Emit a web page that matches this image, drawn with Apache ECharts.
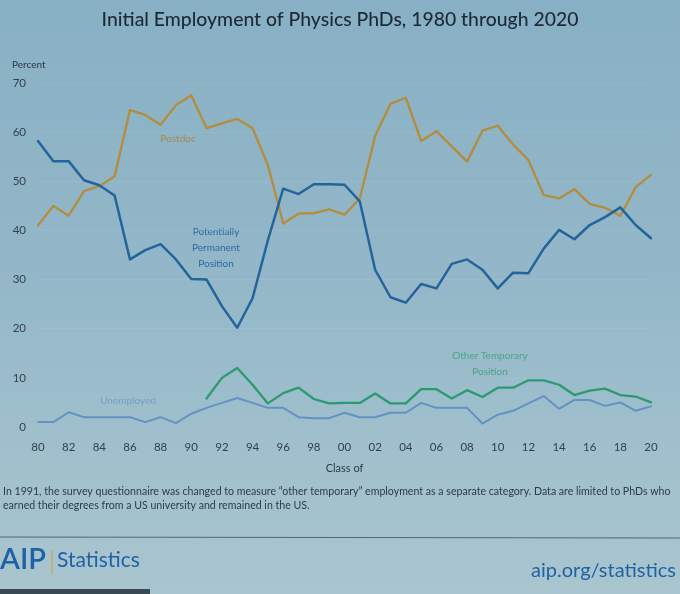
<!DOCTYPE html>
<html>
<head>
<meta charset="utf-8">
<script src="https://cdn.jsdelivr.net/npm/echarts/dist/echarts.min.js"></script>
<style>
  html, body { margin: 0; padding: 0; }
  body { width: 680px; height: 594px; overflow: hidden;
         background: linear-gradient(180deg, #88b0c4 0%, #93b7c8 45%, #a2c1cd 80%, #a9c5cf 100%); }
  #chart { width: 680px; height: 594px; }
</style>
</head>
<body>
<div id="chart"></div>
<script>
const years = [];
for (let y = 1980; y <= 2020; y++) years.push(String(y));

const postdoc = [41, 45, 43, 48, 49, 51, 64.5, 63.5, 61.5, 65.5,
  67.5, 60.8, 61.8, 62.7, 60.8, 53.3, 41.4, 43.4, 43.5, 44.3,
  43.2, 46.5, 59.2, 65.8, 67, 58.2, 60.2, 57.1, 54, 60.3,
  61.3, 57.5, 54.3, 47.2, 46.5, 48.4, 45.4, 44.6, 43, 48.8, 51.3];

const permanent = [58.2, 54.1, 54.1, 50.2, 49.2, 47.1, 34.1, 36, 37.2, 34.1,
  30.1, 30, 24.6, 20.2, 26.2, 38, 48.5, 47.4, 49.4, 49.4,
  49.3, 45.9, 32, 26.4, 25.3, 29.1, 28.2, 33.2, 34.1, 32,
  28.2, 31.4, 31.3, 36.3, 40.1, 38.2, 41.1, 42.7, 44.7, 41.1, 38.4];

const otherTemporary = [null, null, null, null, null, null, null, null, null, null,
  null, 5.8, 10, 12, 8.6, 4.8, 6.9, 8, 5.7, 4.8,
  4.9, 4.9, 6.8, 4.8, 4.8, 7.7, 7.7, 5.8, 7.5, 6.1,
  8, 8, 9.5, 9.5, 8.6, 6.5, 7.4, 7.8, 6.5, 6.2, 5];

const unemployed = [1, 1, 3, 2, 2, 2, 2, 1, 2, 0.8,
  2.7, 3.9, 4.9, 5.9, 4.9, 3.9, 3.9, 2, 1.8, 1.8,
  2.9, 2, 2, 2.9, 2.9, 4.9, 3.9, 3.9, 3.9, 0.7,
  2.5, 3.3, 4.8, 6.3, 3.7, 5.5, 5.5, 4.3, 5, 3.3, 4.2];

const yTicks = [0, 10, 20, 30, 40, 50, 60, 70];

const title = 'Initial Employment of Physics PhDs, 1980 through 2020';
const footnote1 = 'In 1991, the survey questionnaire was changed to measure \u201Cother temporary\u201D employment as a separate category. Data are limited to PhDs who';
const footnote2 = 'earned their degrees from a US university and remained in the US.';

const FONT = 'Lato, "Open Sans", sans-serif';
const chart = echarts.init(document.getElementById('chart'), null, { renderer: 'canvas' });

function line(name, data, color, width) {
  return {
    name, type: 'line', data, showSymbol: false, symbol: 'none',
    connectNulls: false, smooth: false,
    lineStyle: { color, width, cap: 'round', join: 'round' },
    itemStyle: { color }, z: 3
  };
}

chart.setOption({
  backgroundColor: 'transparent',
  animation: false,
  textStyle: { fontFamily: FONT },
  grid: { left: 38, right: 29, top: 83, bottom: 167, containLabel: false },
  xAxis: {
    type: 'category', data: years, boundaryGap: false,
    name: 'Class of', nameLocation: 'middle', nameGap: 36,
    nameTextStyle: { color: '#2c3a44', fontSize: 11, fontFamily: FONT },
    axisLine: { show: false }, axisTick: { show: false },
    axisLabel: { interval: 1, color: '#34424c', fontSize: 11.5, margin: 14,
      formatter: v => v.slice(2) },
    splitLine: { show: false }
  },
  yAxis: {
    type: 'value', min: yTicks[0], max: yTicks[yTicks.length - 1], interval: 10,
    axisLine: { show: false }, axisTick: { show: false },
    axisLabel: { color: '#34424c', fontSize: 11.5, margin: 12 },
    splitLine: { show: true, lineStyle: { color: 'rgba(170,200,214,0.3)', width: 1 } }
  },
  series: [
    line('Postdoc', postdoc, '#b48d3c', 2.3),
    line('Potentially Permanent Position', permanent, '#24649c', 2.5),
    line('Other Temporary Position', otherTemporary, '#2b9a70', 2.3),
    line('Unemployed', unemployed, '#6392c2', 2)
  ],
  graphic: [
    { type: 'text', left: 'center', top: 10,
      style: { text: title, fill: '#1d2a36', font: '500 19.4px ' + FONT } },
    { type: 'text', left: 12, top: 60,
      style: { text: 'Percent', fill: '#2c3a44', font: '10px ' + FONT } },
    { type: 'text', x: 178, y: 139,
      style: { text: 'Postdoc', fill: '#a8894a', font: '10px ' + FONT, align: 'center', verticalAlign: 'middle' } },
    { type: 'text', x: 216, y: 248,
      style: { text: 'Potentially\nPermanent\nPosition', fill: '#2a6aa4', font: '10px ' + FONT,
        align: 'center', verticalAlign: 'middle', lineHeight: 16 } },
    { type: 'text', x: 490, y: 364,
      style: { text: 'Other Temporary\nPosition', fill: '#3aa07a', font: '10px ' + FONT,
        align: 'center', verticalAlign: 'middle', lineHeight: 16, opacity: 0.85 } },
    { type: 'text', x: 128, y: 401,
      style: { text: 'Unemployed', fill: '#6f9acb', font: '10px ' + FONT,
        align: 'center', verticalAlign: 'middle', opacity: 0.85 } },
    { type: 'text', left: 3, top: 485,
      style: { text: footnote1 + '\n' + footnote2, fill: '#2e3b44', font: '10.6px ' + FONT, lineHeight: 14 } },
    { type: 'line', shape: { x1: 0, y1: 537, x2: 680, y2: 538 },
      style: { stroke: '#55666f', lineWidth: 1.2 } },
    { type: 'text', left: 0, top: 545,
      style: { text: 'AIP', fill: '#1f62a4', font: '600 29px ' + FONT } },
    { type: 'line', shape: { x1: 52, y1: 550, x2: 52, y2: 575 },
      style: { stroke: '#c8a84a', lineWidth: 1.2 } },
    { type: 'text', left: 57, top: 550,
      style: { text: 'Statistics', fill: '#1f62a4', font: '21px ' + FONT } },
    { type: 'text', right: 4, top: 561,
      style: { text: 'aip.org/statistics', fill: '#1f62a4', font: '20px ' + FONT } },
    { type: 'rect', shape: { x: 0, y: 589, width: 150, height: 5 },
      style: { fill: '#3a4a52' } }
  ]
});
</script>
</body>
</html>
